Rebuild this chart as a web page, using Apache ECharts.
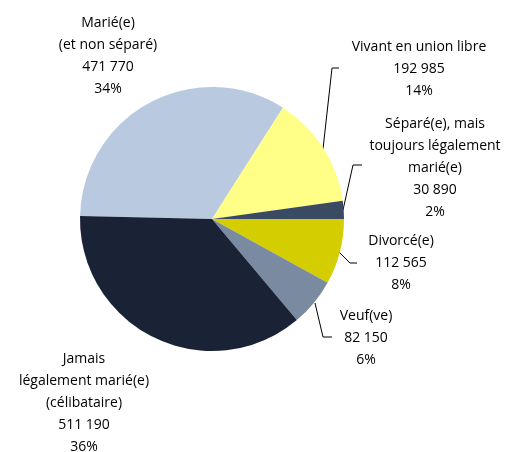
<!DOCTYPE html>
<html>
<head>
<meta charset="utf-8">
<script src="https://cdn.jsdelivr.net/npm/echarts@6/dist/echarts.min.js"></script>
<style>
  html, body { margin: 0; padding: 0; background: #fff; }
  #pie { width: 506px; height: 452px; }
</style>
</head>
<body>
<div id="pie"></div>
<script>
// données (état matrimonial)
const categories = [
    'Marié(e)\n(et non séparé)',
    'Vivant en union libre',
    'Séparé(e), mais\ntoujours légalement\nmarié(e)',
    'Divorcé(e)',
    'Veuf(ve)',
    'Jamais\nlégalement marié(e)\n(célibataire)'
];
const values = [471770, 192985, 30890, 112565, 82150, 511190];
const colors = ['#b9cae0', '#ffff88', '#3a4a63', '#d4cd00', '#7a8aa0', '#1a2235'];

// position des étiquettes (x, y du centre) et lignes de rappel
const labelPos = [
    [108, 56], [419, 69], [435, 168], [401, 263], [366, 338], [84, 403]
];
const leaderLines = [
    null,
    [[323, 149], [332, 68], [339, 68]],
    [[343, 210], [353, 165], [362, 165]],
    [[339, 252], [350, 263], [357, 263]],
    [[315, 303], [323, 337], [332, 337]],
    null
];

function fmt(n) {
    return String(n).replace(/\B(?=(\d{3})+(?!\d))/g, ' ');
}

let myPieChart = echarts.init(document.getElementById('pie'));

let pieData = categories.map((c, i) => ({
    name: c,
    value: values[i],
    itemStyle: { color: colors[i] },
    labelLine: { show: leaderLines[i] !== null }
}));

let pieOption = {
    backgroundColor: '#fff',
    animation: false,
    series: [{
        type: 'pie',
        center: [212, 219],
        radius: 132,
        startAngle: 178.7,
        clockwise: true,
        avoidLabelOverlap: false,
        percentPrecision: 0,
        label: {
            show: true,
            position: 'outside',
            formatter: p => p.name + '\n' + fmt(p.value) + '\n' + p.percent + '%',
            fontFamily: 'Open Sans',
            fontSize: 14,
            lineHeight: 22,
            color: '#000',
            align: 'center'
        },
        labelLine: {
            show: true,
            lineStyle: { color: '#000', width: 1 }
        },
        labelLayout: function (params) {
            let i = params.dataIndex;
            let out = {
                x: labelPos[i][0],
                y: labelPos[i][1],
                align: 'center',
                verticalAlign: 'middle',
                hideOverlap: false
            };
            if (leaderLines[i]) {
                out.labelLinePoints = leaderLines[i];
            }
            return out;
        },
        data: pieData
    }]
};

myPieChart.setOption(pieOption);
</script>
</body>
</html>
